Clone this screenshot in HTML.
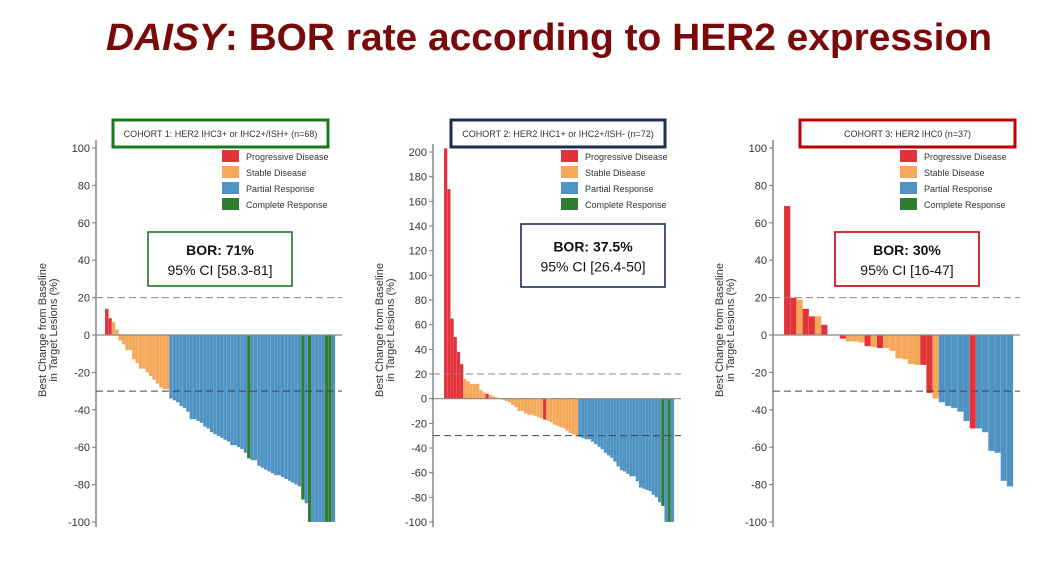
<!DOCTYPE html>
<html><head><meta charset="utf-8"><style>
html,body{margin:0;padding:0;background:#fff;}
svg{display:block;font-family:"Liberation Sans",Arial,sans-serif;}
</style></head><body>
<svg id="s" width="1048" height="569" viewBox="0 0 1048 569" xmlns="http://www.w3.org/2000/svg">
<text x="549" y="50" text-anchor="middle" font-size="38" font-weight="bold" fill="#7a0a0a" textLength="886" lengthAdjust="spacingAndGlyphs"><tspan font-style="italic">DAISY</tspan>: BOR rate according to HER2 expression</text>
</svg>
<script>
const S=document.getElementById('s');
const C={R:'#e3323a',O:'#f5a85a',B:'#4f93c4',G:'#2e7d32'};
function el(t,a,txt){const e=document.createElementNS('http://www.w3.org/2000/svg',t);for(const k in a)e.setAttribute(k,a[k]);if(txt!==undefined)e.textContent=txt;S.appendChild(e);return e;}
function panel(o){
 const sc=(o.yBot-o.yTop)/(o.max-o.min);
 const Y=v=>o.yTop+(o.max-v)*sc;
 // y label
 const cx=o.ax-50, cy=330;
 el('text',{x:0,y:0,'font-size':11,fill:'#333','text-anchor':'middle',transform:`translate(${cx},${cy}) rotate(-90)`},'Best Change from Baseline');
 el('text',{x:0,y:0,'font-size':11,fill:'#333','text-anchor':'middle',transform:`translate(${cx+11},${cy}) rotate(-90)`},'in Target Lesions (%)');
 // bars
 const n=o.d.length, w=(o.x1-o.x0)/n;
 o.d.forEach((b,i)=>{const v=b[0];const y0=Y(0),y1=Y(v);
  el('rect',{x:o.x0+i*w,y:Math.min(y0,y1),width:w+0.15,height:Math.max(0.6,Math.abs(y1-y0)),fill:C[b[1]],stroke:'rgba(255,255,255,0.35)','stroke-width':0.3});});
 // axis
 el('line',{x1:o.ax,y1:o.yTop-8,x2:o.ax,y2:o.yBot+5,stroke:'#777','stroke-width':1.3});
 for(let v=o.min;v<=o.max;v+=o.step){const y=Y(v);
  el('line',{x1:o.ax-4,y1:y,x2:o.ax,y2:y,stroke:'#777','stroke-width':1});
  el('text',{x:o.ax-6,y:y+4,'font-size':11,fill:'#333','text-anchor':'end'},v<0?'-'+(-v):String(v));}
 el('line',{x1:o.ax,y1:Y(0),x2:o.xe,y2:Y(0),stroke:'#888','stroke-width':1.2});
 el('line',{x1:o.ax,y1:Y(20),x2:o.xe,y2:Y(20),stroke:'#888','stroke-width':1,'stroke-dasharray':'7,4'});
 el('line',{x1:o.ax,y1:Y(-30),x2:o.xe,y2:Y(-30),stroke:'#444','stroke-width':1,'stroke-dasharray':'7,4'});
 // title box
 el('rect',{x:o.tb[0],y:120,width:o.tb[1]-o.tb[0],height:27,fill:'#fff',stroke:o.col,'stroke-width':3});
 el('text',{x:(o.tb[0]+o.tb[1])/2,y:137,'font-size':9,fill:'#333','text-anchor':'middle'},o.title);
 // legend
 const L=[['R','Progressive Disease'],['O','Stable Disease'],['B','Partial Response'],['G','Complete Response']];
 L.forEach((l,i)=>{const y=150+i*16;el('rect',{x:o.lx,y:y,width:17,height:12,fill:C[l[0]]});
  el('text',{x:o.lx+24,y:y+10,'font-size':9,fill:'#333'},l[1]);});
 // BOR box
 const b=o.bb;
 el('rect',{x:b[0],y:b[1],width:b[2]-b[0],height:b[3]-b[1],fill:'#fff',stroke:o.col,'stroke-width':1.6});
 const mx=(b[0]+b[2])/2, my=(b[1]+b[3])/2;
 el('text',{x:mx,y:my-4,'font-size':14,'font-weight':'bold',fill:'#111','text-anchor':'middle'},o.bor);
 el('text',{x:mx,y:my+16,'font-size':14,fill:'#111','text-anchor':'middle'},o.ci);
}
function mk(arr){return arr.map(s=>{const c=s.slice(-1);return [parseFloat(s),c];});}
// panel 1
let p1=[[14,'R'],[9,'R']];
[7,3,-3,-5,-8,-8,-13,-15,-18,-18,-20,-22,-24,-26,-28,-29,-29].forEach(v=>p1.push([v,'O']));
[-34,-35,-36,-38,-39,-41,-45,-45,-46,-47,-49,-50,-52,-53,-54,-55,-56,-57,-59,-59,-60,-61,-63,-66,-67,-67,-70,-71,-72,-73,-74,-75,-75,-76,-77,-78,-79,-80,-81,-88,-90,-100,-100,-100,-100,-100,-100,-100,-100].forEach(v=>p1.push([v,'B']));
[42,58,60,65,66].forEach(i=>p1[i][1]='G');
panel({d:p1,min:-100,max:100,step:20,yTop:148,yBot:522,ax:96,x0:105,x1:335,xe:342,col:'#1a7a1a',tb:[113,328],title:'COHORT 1: HER2 IHC3+ or IHC2+/ISH+ (n=68)',lx:222,bb:[148,232,292,286],bor:'BOR: 71%',ci:'95% CI [58.3-81]'});
// panel 2
let p2=[[203,'R'],[170,'R'],[65,'R'],[50,'R'],[38,'R'],[28,'R']];
[16,14,12,12,12,7,5,'4R',3,2,1,0,-1,-2,-3,-5,-7,-10,-10,-12,-13,-13,-14,-15,-16,'-17R',-18,-19,-21,-22,-23,-24,-26,-28].forEach(v=>{if(typeof v==='string')p2.push([parseFloat(v),'R']);else p2.push([v,'O']);});
[-29,-30].forEach(v=>p2.push([v,'O']));
[-31,-32,-33,-33,-35,-37,-39,-41,-44,-46,-48,-51,-55,-58,-59,-61,-63,-63,-67,-72,-73,-74,-75,-78,-80,-84,-87,-100,-100,-100,-100,-100].forEach(v=>p2.push([v,'B']));
p2=p2.slice(0,72);
p2[68][1]='G';p2[70][1]='G';
panel({d:p2,min:-100,max:200,step:20,yTop:152,yBot:522,ax:433,x0:444,x1:674,xe:681,col:'#1f2d55',tb:[451,665],title:'COHORT 2: HER2 IHC1+ or IHC2+/ISH- (n=72)',lx:561,bb:[521,224,665,287],bor:'BOR: 37.5%',ci:'95% CI [26.4-50]'});
// panel 3
const p3=mk(['69R','20R','19O','14R','10R','10O','5.5R','0.3O','0.3O','-2R','-3.5O','-3.5O','-4O','-6R','-6.5O','-7R','-7O','-8.5O','-12.5O','-13O','-15.5O','-16O','-16R','-31R','-34O','-36B','-38B','-39B','-41B','-46B','-50R','-50B','-52B','-62B','-63B','-78B','-81B']);
panel({d:p3,min:-100,max:100,step:20,yTop:148,yBot:522,ax:773,x0:784,x1:1013,xe:1020,col:'#c00000',tb:[800,1015],title:'COHORT 3: HER2 IHC0    (n=37)',lx:900,bb:[835,232,979,286],bor:'BOR: 30%',ci:'95% CI [16-47]'});
</script>
</body></html>
